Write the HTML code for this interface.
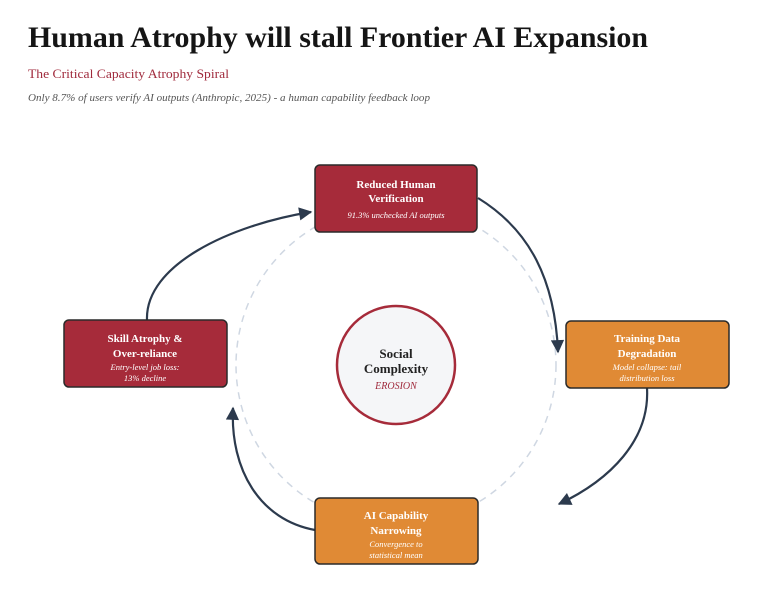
<!DOCTYPE html>
<html><head><meta charset="utf-8"><style>html,body{margin:0;padding:0;background:#fff;}svg{display:block}</style></head>
<body>
<svg width="777" height="610" viewBox="0 0 777 610" xmlns="http://www.w3.org/2000/svg" font-family="Liberation Serif, serif">
<defs>
<marker id="ah" viewBox="0 0 10 10" refX="9" refY="5" markerWidth="7" markerHeight="6" orient="auto-start-reverse" markerUnits="strokeWidth"><path d="M0,0 L10,5 L0,10 z" fill="#2c3a4d"/></marker>
</defs>
<text x="28" y="47" font-size="30" font-weight="bold" fill="#151515" textLength="620" lengthAdjust="spacingAndGlyphs">Human Atrophy will stall Frontier AI Expansion</text>
<text x="28" y="78" font-size="13" fill="#a02a3c" textLength="201" lengthAdjust="spacingAndGlyphs">The Critical Capacity Atrophy Spiral</text>
<text x="28" y="101" font-size="10.5" font-style="italic" fill="#555" textLength="402" lengthAdjust="spacingAndGlyphs">Only 8.7% of users verify AI outputs (Anthropic, 2025) - a human capability feedback loop</text>

<circle cx="396" cy="365" r="160" fill="none" stroke="#cfd7e2" stroke-width="1.5" stroke-dasharray="7 6"/>
<circle cx="396" cy="365" r="59" fill="#f5f6f8" stroke="#a62b3a" stroke-width="2.5"/>
<text x="396" y="358" font-size="13" font-weight="bold" text-anchor="middle" fill="#222">Social</text>
<text x="396" y="373" font-size="13" font-weight="bold" text-anchor="middle" fill="#222">Complexity</text>
<text x="396" y="389" font-size="10" font-style="italic" text-anchor="middle" fill="#a02a3c">EROSION</text>

<g fill="none" stroke="#2c3a4d" stroke-width="2.2">
<path d="M147,320 C145,265 230,225 311,212" marker-end="url(#ah)"/>
<path d="M478,198 C530,230 555,280 558,352" marker-end="url(#ah)"/>
<path d="M647,388 C650,440 610,480 559,504" marker-end="url(#ah)"/>
<path d="M315,530 C260,520 230,470 233,408" marker-end="url(#ah)"/>
</g>

<g stroke="#2a2a2a" stroke-width="1.5">
<rect x="315" y="165" width="162" height="67" rx="5" fill="#a62b3a"/>
<rect x="566" y="321" width="163" height="67" rx="5" fill="#e08a35"/>
<rect x="315" y="498" width="163" height="66" rx="5" fill="#e08a35"/>
<rect x="64" y="320" width="163" height="67" rx="5" fill="#a62b3a"/>
</g>
<g fill="#fff" text-anchor="middle">
<text x="396" y="188" font-size="11" font-weight="bold">Reduced Human</text>
<text x="396" y="202" font-size="11" font-weight="bold">Verification</text>
<text x="396" y="218" font-size="8.5" font-style="italic">91.3% unchecked AI outputs</text>

<text x="647" y="342" font-size="11" font-weight="bold">Training Data</text>
<text x="647" y="357" font-size="11" font-weight="bold">Degradation</text>
<text x="647" y="370" font-size="8.5" font-style="italic">Model collapse: tail</text>
<text x="647" y="381" font-size="8.5" font-style="italic">distribution loss</text>

<text x="396" y="519" font-size="11" font-weight="bold">AI Capability</text>
<text x="396" y="534" font-size="11" font-weight="bold">Narrowing</text>
<text x="396" y="547" font-size="8.5" font-style="italic">Convergence to</text>
<text x="396" y="558" font-size="8.5" font-style="italic">statistical mean</text>

<text x="145" y="342" font-size="11" font-weight="bold">Skill Atrophy &amp;</text>
<text x="145" y="357" font-size="11" font-weight="bold">Over-reliance</text>
<text x="145" y="370" font-size="8.5" font-style="italic">Entry-level job loss:</text>
<text x="145" y="381" font-size="8.5" font-style="italic">13% decline</text>
</g>
</svg>
</body></html>
